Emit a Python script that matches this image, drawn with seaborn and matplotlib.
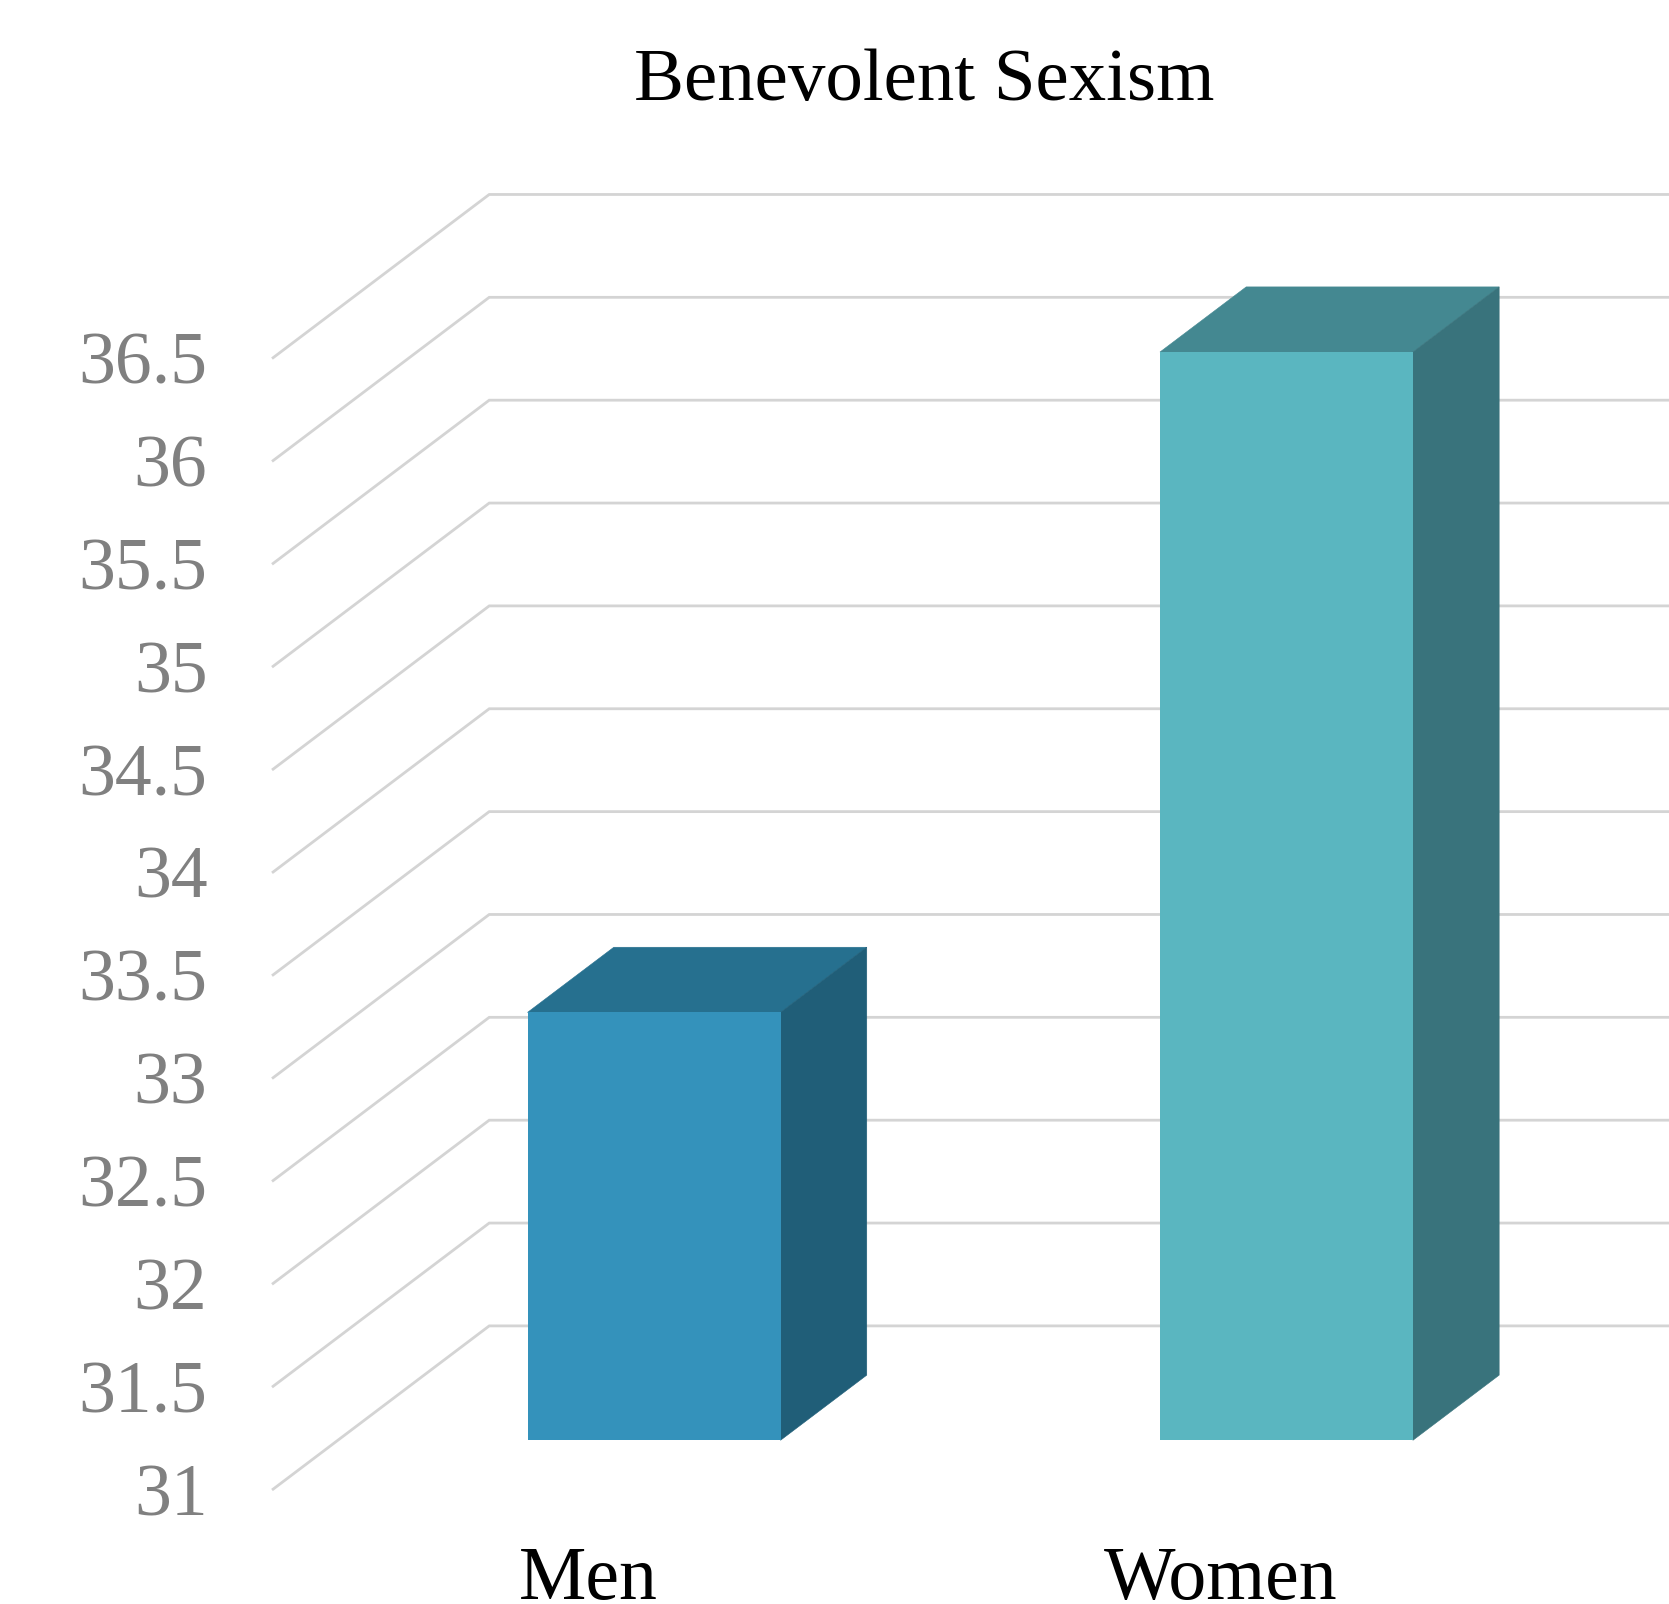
import matplotlib
matplotlib.use("Agg")
import matplotlib.pyplot as plt
from matplotlib.transforms import Affine2D, ScaledTranslation
import numpy as np
import seaborn as sns

groups = ["Men", "Women"]
means = [33.08, 36.29]
y_ticks = [31, 31.5, 32, 32.5, 33, 33.5, 34, 34.5, 35, 35.5, 36, 36.5]
y_tick_labels = ["31", "31.5", "32", "32.5", "33", "33.5", "34", "34.5", "35", "35.5", "36", "36.5"]
front_colors = ["#3492BB", "#5AB6C0"]
top_colors = ["#26708F", "#448891"]
side_colors = ["#205E78", "#39737C"]

BASELINE = 31
GRID = "#D4D4D4"
TEXT_GRAY = "#808080"

# Oblique projection: one unit of depth moves a point this far in data units.
DEPTH_X = 0.3435
DEPTH_Y = 0.7977
BAR_DEPTH_START = 0.303
BAR_DEPTH_END = 0.70
BAR_WIDTH = 0.40


def project(x, y, depth):
    return x + depth * DEPTH_X, y + depth * DEPTH_Y


sns.set_style("white")
plt.rcParams["font.family"] = ["Liberation Serif", "DejaVu Serif"]

W, H = 1669, 1604
fig = plt.figure(figsize=(W / 100, H / 100), dpi=100, facecolor="white")
ax = fig.add_axes([272 / W, 1 - 1490 / H, (W - 272) / W, (1490 - 194) / H])

sns.barplot(x=groups, y=means, hue=groups, palette=front_colors, legend=False,
            saturation=1, width=BAR_WIDTH, ax=ax, zorder=4)

# Seat each bar on the axis baseline and push it into the depth of the box.
shift = Affine2D().translate(BAR_DEPTH_START * DEPTH_X, BAR_DEPTH_START * DEPTH_Y)
for patch, value in zip(ax.patches, means):
    patch.set_y(BASELINE)
    patch.set_height(value - BASELINE)
    patch.set_transform(shift + ax.transData)
    patch.set_linewidth(0)

# Floor-to-wall gridlines: a diagonal from the front edge, then along the back wall.
x_left, x_right = -0.5, 1.709
for tick in y_ticks:
    back_x, back_y = project(x_left, tick, 1)
    ax.plot([x_left, back_x, x_right], [tick, back_y, back_y], color=GRID, lw=2.0,
            solid_joinstyle="miter", solid_capstyle="butt", zorder=1, clip_on=False)

# Top and right faces of each bar, slightly stroked so no seam shows at the shared edges.
for i, value in enumerate(means):
    left, right = i - BAR_WIDTH / 2, i + BAR_WIDTH / 2
    top = [project(left, value, BAR_DEPTH_START), project(right, value, BAR_DEPTH_START),
           project(right, value, BAR_DEPTH_END), project(left, value, BAR_DEPTH_END)]
    side = [project(right, BASELINE, BAR_DEPTH_START), project(right, value, BAR_DEPTH_START),
            project(right, value, BAR_DEPTH_END), project(right, BASELINE, BAR_DEPTH_END)]
    ax.fill(*np.array(top).T, facecolor=top_colors[i], edgecolor=top_colors[i], lw=0.4, zorder=2)
    ax.fill(*np.array(side).T, facecolor=side_colors[i], edgecolor=side_colors[i], lw=0.4, zorder=3)

ax.set_xlim(x_left, x_right)
ax.set_ylim(BASELINE, 37.30)
ax.set_xlabel("")
ax.set_ylabel("")
ax.set_yticks(y_ticks, y_tick_labels)
ax.set_xticks(range(len(groups)), groups)
ax.tick_params(axis="y", length=0, pad=46.5, labelsize=53, labelcolor=TEXT_GRAY)
ax.tick_params(axis="x", length=0, pad=40.5, labelsize=54.5, labelcolor="black")
sns.despine(ax=ax, left=True, bottom=True)
ax.patch.set_alpha(0)

# Lift the value labels slightly so the digits sit level with their gridlines.
lift = ScaledTranslation(0, 0.5 / 72, fig.dpi_scale_trans)
for label in ax.get_yticklabels():
    label.set_transform(label.get_transform() + lift)

ax.set_title("Benevolent Sexism", fontsize=53.9, color="black", x=0.4667, pad=68)

fig.savefig("out.png", dpi=100, facecolor="white")
